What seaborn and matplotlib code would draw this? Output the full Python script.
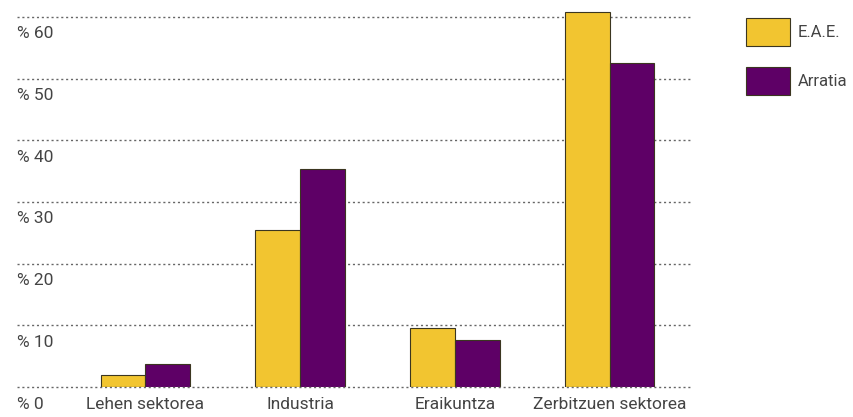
import pandas as pd
import matplotlib.pyplot as plt
import seaborn as sns
from matplotlib.transforms import blended_transform_factory, ScaledTranslation

# Data
sectors = ["Lehen sektorea", "Industria", "Eraikuntza", "Zerbitzuen sektorea"]
eae = [1.9, 25.5, 9.6, 60.8]
arratia = [3.7, 35.4, 7.6, 52.5]
series = ["E.A.E.", "Arratia"]
yticks = [0, 10, 20, 30, 40, 50, 60]
ytick_labels = ["% 0", "% 10", "% 20", "% 30", "% 40", "% 50", "% 60"]

df = pd.DataFrame({
    "Sector": sectors * 2,
    "Value": eae + arratia,
    "Series": [series[0]] * len(sectors) + [series[1]] * len(sectors),
})

sns.set_style("white")
plt.rcParams["font.family"] = ["Roboto", "DejaVu Sans"]

fig = plt.figure(figsize=(8.54, 4.17), dpi=100)
ax = fig.add_axes([0.02, 0.0719, 0.788, 0.917])

colors = {"E.A.E.": "#F2C530", "Arratia": "#5E0066"}
sns.barplot(data=df, x="Sector", y="Value", hue="Series", palette=colors,
            width=0.58, gap=0, edgecolor="#3b3620", linewidth=0.8,
            saturation=1, ax=ax, zorder=3)

ax.set_xlim(-0.83, 3.52)
ax.set_ylim(0, 62)
for y in yticks:
    ax.axhline(y, color="#666666", linestyle=(0, (1.5, 2)), linewidth=1,
               zorder=1 if y else 4, clip_on=False)

for s in ax.spines.values():
    s.set_visible(False)
ax.set_yticks([])
ax.set_xlabel("")
ax.set_ylabel("")
ax.tick_params(axis="x", length=0, pad=7, labelsize=12.5, labelcolor="#444444")

# y labels sit just below each gridline
trans = blended_transform_factory(ax.transAxes, ax.transData) + \
    ScaledTranslation(0, -17 / 100, fig.dpi_scale_trans)
for y, lab in zip(yticks, ytick_labels):
    ax.text(0.0, y, lab, transform=trans, ha="left", va="center",
            fontsize=12.5, color="#444444")

ax.get_legend().remove()
handles = [plt.Rectangle((0, 0), 1, 1, facecolor=colors[s],
                         edgecolor="#3b3620", linewidth=0.8) for s in series]
fig.legend(handles, series, loc="upper left", bbox_to_anchor=(0.868, 0.97),
           frameon=False, fontsize=12, handlelength=2.65, handleheight=2.25,
           labelspacing=1.25, handletextpad=0.45, labelcolor="#444444",
           borderaxespad=0, borderpad=0.3)

fig.savefig("out.png", dpi=100)
